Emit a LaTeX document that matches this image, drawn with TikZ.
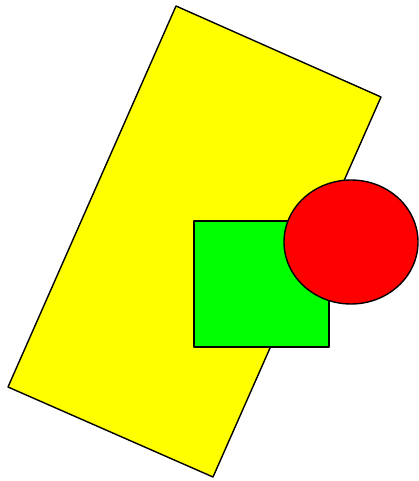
\documentclass[tikz,border=0pt]{standalone}
\usepackage{xcolor}
\definecolor{blockyellow}{RGB}{255,255,0}
\definecolor{boxgreen}{RGB}{0,255,0}
\definecolor{ovalred}{RGB}{255,0,0}

\begin{document}
\begin{tikzpicture}[x=1pt, y=-1pt, line width=1.4pt, line join=round]
\useasboundingbox (0,0) rectangle (419,481);
% tilted yellow block
\draw[fill=blockyellow] (176,6) -- (381,97) -- (213,477) -- (8,387) -- cycle;
% green square
\draw[fill=boxgreen] (194,221) rectangle (329,347);
% red ellipse
\draw[fill=ovalred] (351,242) ellipse [x radius=67, y radius=62];
\end{tikzpicture}
\end{document}
